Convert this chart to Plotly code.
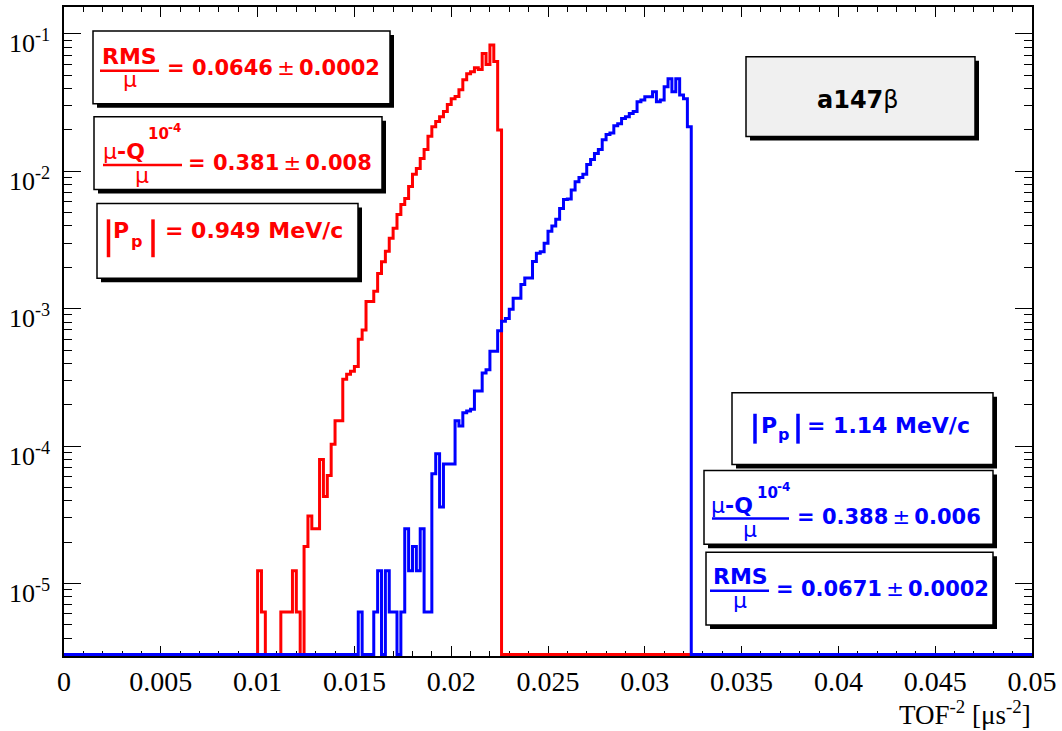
import numpy as np
import plotly.graph_objects as go

# ---------------- data ----------------
BIN_WIDTH = 0.0002
N_BINS = 250  # 0 .. 0.05

red_first_bin = 0.0100
red_values = [
    1.24e-5, 6.2e-6, 0, 0, 0, 0, 6.2e-6, 6.2e-6, 6.2e-6, 1.24e-5,
    6.2e-6, 0, 1.86e-5, 3.1e-5, 2.5e-5, 2.5e-5, 8.0e-5, 4.3e-5, 6.1e-5, 1.03e-4,
    1.53e-4, 1.53e-4, 3.07e-4, 3.33e-4, 3.5e-4, 3.8e-4, 6.0e-4, 7.0e-4, 1.13e-3, 1.13e-3,
    1.34e-3, 1.8e-3, 2.2e-3, 2.62e-3, 3.26e-3, 3.85e-3, 4.85e-3, 5.74e-3, 6.35e-3, 7.76e-3,
    9.5e-3, 1.05e-2, 1.24e-2, 1.44e-2, 1.8e-2, 2.11e-2, 2.3e-2, 2.5e-2, 2.72e-2, 3.06e-2,
    3.38e-2, 3.5e-2, 3.92e-2, 4.64e-2, 5.13e-2, 5.3e-2, 5.67e-2, 5.5e-2, 7.2e-2, 6.0e-2,
    8.3e-2, 6.3e-2, 2.0e-2,
]

blue_first_bin = 0.0150
blue_values = [
    0, 6.2e-6, 0, 0, 0, 6.2e-6, 1.24e-5, 0, 1.24e-5, 6.2e-6,
    6.2e-6, 0, 6.2e-6, 2.5e-5, 1.24e-5, 1.86e-5, 1.24e-5, 2.5e-5, 6.2e-6, 6.2e-6,
    6.3e-5, 8.8e-5, 3.6e-5, 7.4e-5, 7.4e-5, 7.4e-5, 1.53e-4, 1.4e-4, 1.75e-4, 1.8e-4,
    1.85e-4, 2.52e-4, 2.52e-4, 3.4e-4, 3.6e-4, 4.9e-4, 4.9e-4, 6.9e-4, 8.1e-4, 8.5e-4,
    9.9e-4, 1.19e-3, 1.19e-3, 1.5e-3, 1.67e-3, 1.67e-3, 2.21e-3, 2.53e-3, 2.6e-3, 3.0e-3,
    3.66e-3, 4.0e-3, 4.47e-3, 5.37e-3, 6.24e-3, 6.3e-3, 7.3e-3, 8.4e-3, 9.0e-3, 9.5e-3,
    1.12e-2, 1.22e-2, 1.35e-2, 1.44e-2, 1.7e-2, 1.85e-2, 1.9e-2, 2.15e-2, 2.22e-2, 2.42e-2,
    2.5e-2, 2.63e-2, 2.72e-2, 3.21e-2, 3.3e-2, 3.49e-2, 3.49e-2, 3.8e-2, 3.21e-2, 3.3e-2,
    4.12e-2, 4.71e-2, 3.8e-2, 4.71e-2, 3.6e-2, 3.38e-2, 2.11e-2,
]

x_tick_values = [0, 0.005, 0.01, 0.015, 0.02, 0.025, 0.03, 0.035, 0.04, 0.045, 0.05]
x_tick_labels = ["0", "0.005", "0.01", "0.015", "0.02", "0.025", "0.03",
                 "0.035", "0.04", "0.045", "0.05"]
y_tick_values = [1e-5, 1e-4, 1e-3, 1e-2, 1e-1]
y_tick_labels = ["10<sup>-5</sup>", "10<sup>-4</sup>", "10<sup>-3</sup>",
                 "10<sup>-2</sup>", "10<sup>-1</sup>"]

# ---------------- layout constants ----------------
FIG_W, FIG_H = 1062, 731
M_L, M_R, M_T, M_B = 64, 30, 5, 75
PW = FIG_W - M_L - M_R
PH = FIG_H - M_T - M_B
Y_LOG_RANGE = [-5.528, -0.804]
FLOOR = 10 ** -5.517  # empty bins drawn on the bottom edge

RED = "rgb(255,0,0)"
BLUE = "rgb(0,0,255)"
SANS = "DejaVu Sans"
SERIF = "Liberation Serif"
PM = "\u2009±\u2009"

edges = np.arange(N_BINS + 1) * BIN_WIDTH


def full_hist(first, vals):
    h = np.zeros(N_BINS)
    i0 = int(round(first / BIN_WIDTH))
    h[i0:i0 + len(vals)] = vals
    return h


def steps(h):
    y = np.maximum(h, FLOOR)
    return edges, np.append(y, y[-1])


def px(xp):
    return (xp - M_L) / PW


def py(yp):
    return 1 - (yp - M_T) / PH


fig = go.Figure()
for vals, first, col in [(red_values, red_first_bin, RED), (blue_values, blue_first_bin, BLUE)]:
    xs, ys = steps(full_hist(first, vals))
    fig.add_trace(go.Scatter(x=xs, y=ys, mode="lines", line=dict(color=col, width=3, shape="hv"),
                             hoverinfo="skip", showlegend=False))

shapes = []
annotations = []


def box(x0, y0, x1, y1, fill="white"):
    shapes.append(dict(type="rect", xref="paper", yref="paper",
                       x0=px(x0 + 4), x1=px(x1 + 4), y0=py(y0 + 4), y1=py(y1 + 4),
                       fillcolor="black", line=dict(width=0)))
    shapes.append(dict(type="rect", xref="paper", yref="paper",
                       x0=px(x0), x1=px(x1), y0=py(y0), y1=py(y1),
                       fillcolor=fill, line=dict(color="black", width=1.5)))


def hline(x0, x1, y, color, w=2.5):
    shapes.append(dict(type="line", xref="paper", yref="paper",
                       x0=px(x0), x1=px(x1), y0=py(y), y1=py(y),
                       line=dict(color=color, width=w)))


def vline(x, y0, y1, color, w=3.5):
    shapes.append(dict(type="line", xref="paper", yref="paper",
                       x0=px(x), x1=px(x), y0=py(y0), y1=py(y1),
                       line=dict(color=color, width=w)))


def text(t, x, y, size, color, anchor="left", family=SANS):
    annotations.append(dict(text=t, xref="paper", yref="paper", x=px(x), y=py(y),
                            xanchor=anchor, yanchor="middle", showarrow=False,
                            font=dict(family=family, size=size, color=color), borderpad=0))


FS = 22
FE = 21
# ---- red boxes ----
box(93, 29, 390, 102)
text("<b>RMS</b>", 129.5, 55, FS, RED, "center")
hline(100, 159, 69, RED)
text("μ", 130, 78, FS, RED, "center")
text(f"<b>= 0.0646</b>{PM}<b>0.0002</b>", 166, 66, FE, RED)

box(94, 115, 382, 188)
text("μ<b>-Q</b>", 102, 150, FS, RED)
text("<b>10</b>", 147, 132, 15, RED)
text("<b>-4</b>", 167, 126, 12, RED)
hline(103, 182, 163.5, RED)
text("μ", 142, 174, FS, RED, "center")
text(f"<b>= 0.381</b>{PM}<b>0.008</b>", 187, 161, FE, RED)

box(97, 202, 358, 277)
vline(108.5, 218, 256, RED)
vline(153, 218, 256, RED)
text("<b>P</b>", 112, 229, FS, RED)
text("<b>p</b>", 130, 240, 16, RED)
text("<b>= 0.949 MeV/c</b>", 164, 229, FS, RED)

# ---- blue / title boxes ----
box(746, 55, 975, 135, fill="#f0f0f0")
text("<b>a147</b>β", 858, 98, 24, "black", "center")

box(732, 392, 993, 464)
vline(755, 413, 443, BLUE)
vline(798, 413, 443, BLUE)
text("<b>P</b>", 760, 425, FS, BLUE)
text("<b>p</b>", 777, 434, 16, BLUE)
text("<b>= 1.14 MeV/c</b>", 806, 425, FS, BLUE)

box(704, 470, 993, 544)
text("μ<b>-Q</b>", 710, 505, FS, BLUE)
text("<b>10</b>", 756, 492, 15, BLUE)
text("<b>-4</b>", 776, 486, 12, BLUE)
hline(712, 789, 518, BLUE)
text("μ", 750, 529, FS, BLUE, "center")
text(f"<b>= 0.388</b>{PM}<b>0.006</b>", 796, 517, FE, BLUE)

box(706, 552, 993, 625)
text("<b>RMS</b>", 740, 576, FS, BLUE, "center")
hline(710, 769, 590.5, BLUE)
text("μ", 740, 600, FS, BLUE, "center")
text(f"<b>= 0.0671</b>{PM}<b>0.0002</b>", 775, 588.5, FE, BLUE)

# axis title
text("TOF<sup>-2</sup> [μs<sup>-2</sup>]", 1032, 713, 27, "black", "right", SERIF)

# y tick labels placed through the y scale, sitting slightly below each tick like ROOT
for v, lab in zip(y_tick_values, y_tick_labels):
    annotations.append(dict(text=lab, xref="paper", yref="y", x=px(52), y=np.log10(v),
                            xanchor="right", yanchor="middle", yshift=-8, showarrow=False,
                            font=dict(family=SERIF, size=26, color="black")))

fig.update_layout(
    width=FIG_W, height=FIG_H,
    margin=dict(l=M_L, r=M_R, t=M_T, b=M_B, pad=0),
    paper_bgcolor="white", plot_bgcolor="white",
    shapes=shapes, annotations=annotations,
    xaxis=dict(range=[0, 0.05], tickmode="array", tickvals=x_tick_values, ticktext=x_tick_labels,
               ticks="inside", ticklen=10.5, tickwidth=1.2, tickcolor="black",
               showline=True, linecolor="black", linewidth=1.5, mirror="ticks",
               showgrid=False, zeroline=False, layer="below traces",
               tickfont=dict(family=SERIF, size=28, color="black"),
               minor=dict(ticks="inside", ticklen=5.5, tickwidth=1.2, tickcolor="black",
                          dtick=0.001, tick0=0, showgrid=False)),
    yaxis=dict(type="log", range=Y_LOG_RANGE, tickmode="array", tickvals=y_tick_values,
               showticklabels=False,
               ticks="inside", ticklen=17, tickwidth=1.2, tickcolor="black",
               showline=True, linecolor="black", linewidth=1.5, mirror="ticks",
               showgrid=False, zeroline=False, layer="below traces",
               minor=dict(ticks="inside", ticklen=8.5, tickwidth=1.2, tickcolor="black",
                          dtick="D1", showgrid=False)),
)

fig.write_html("out.html")
